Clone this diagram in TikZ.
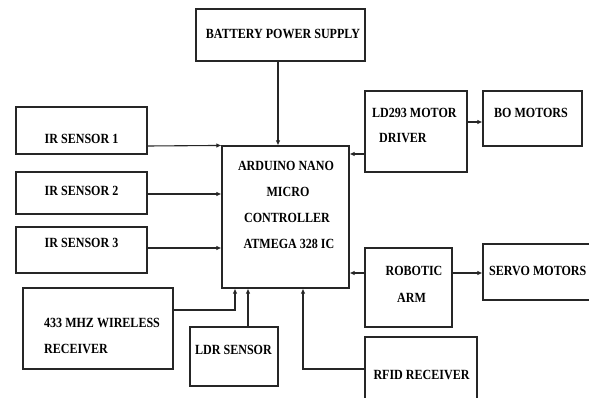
\documentclass[tikz,border=0pt]{standalone}
\usepackage{fontspec}
\setmainfont{Liberation Serif}[FakeStretch=0.86]
\usetikzlibrary{arrows.meta}
\begin{document}
\begin{tikzpicture}[x=1pt,y=-1pt,
  box/.style={draw=black!85,line width=1.1pt,inner sep=0pt},
  lbl/.style={font=\fontsize{14}{16}\selectfont\bfseries,inner sep=0pt,text height=9.4pt,text depth=0pt},
  arr/.style={draw=black!85,line width=1.1pt,-{Latex[length=5pt,width=4.5pt]}}]
\useasboundingbox (0,0) rectangle (589,398);
\clip (0,0) rectangle (589,398);
\fill[white] (0,0) rectangle (589,398);
% boxes
\node[box,minimum width=169pt,minimum height=52pt] (bat) at (280.5,35) {};
\node[box,minimum width=131pt,minimum height=47pt] (ir1) at (81.5,130.5) {};
\node[box,minimum width=131pt,minimum height=42pt] (ir2) at (81.5,193) {};
\node[box,minimum width=131pt,minimum height=46pt] (ir3) at (81.5,250) {};
\node[box,minimum width=150pt,minimum height=81pt] (wl) at (98,328.5) {};
\node[box,minimum width=88pt,minimum height=59pt] (ldr) at (234,356.5) {};
\node[box,minimum width=127pt,minimum height=142pt] (ard) at (285.5,217) {};
\node[box,minimum width=102pt,minimum height=81pt] (ld) at (416,131.5) {};
\node[box,minimum width=99pt,minimum height=55pt] (bo) at (532.5,118.5) {};
\node[box,minimum width=87pt,minimum height=79pt] (arm) at (408.5,287.5) {};
\node[box,minimum width=117pt,minimum height=56pt] (servo) at (541.5,272) {};
\node[box,minimum width=112pt,minimum height=73pt] (rfid) at (421,373.5) {};
% labels
\node[lbl] (tbat) at (283,34) {BATTERY POWER SUPPLY};
\node[lbl] (tir1) at (81.5,139) {IR SENSOR 1};
\node[lbl] (tir2) at (81.5,191) {IR SENSOR 2};
\node[lbl] (tir3) at (81.5,243) {IR SENSOR 3};
\node[lbl,anchor=west] (twl1) at (44,323) {433 MHZ WIRELESS};
\node[lbl,anchor=west] (twl2) at (44,349) {RECEIVER};
\node[lbl] (tldr) at (233.5,350) {LDR SENSOR};
\node[lbl] (tard1) at (286,166) {ARDUINO NANO};
\node[lbl] (tard2) at (288,192) {MICRO};
\node[lbl] (tard3) at (287,218) {CONTROLLER};
\node[lbl] (tard4) at (289,244) {ATMEGA 328 IC};
\node[lbl,anchor=west] (tld1) at (372,113) {LD293 MOTOR};
\node[lbl,anchor=west] (tld2) at (379,138) {DRIVER};
\node[lbl] (tbo) at (531,113) {BO MOTORS};
\node[lbl] (tarm1) at (414,271) {ROBOTIC};
\node[lbl] (tarm2) at (411.5,298) {ARM};
\node[lbl,anchor=west] (tservo) at (489,271) {SERVO MOTORS};
\node[lbl] (trfid) at (421.5,375) {RFID RECEIVER};
% connectors
\draw[arr] (bat.south -| 278,0) -- (ard.north -| 278,0);
\draw[arr] (ir1.east |- 0,146) -- (ard.north west);
\draw[arr] (ir2.east |- 0,194) -- (ard.west |- 0,194);
\draw[arr] (ir3.east |- 0,248) -- (ard.west |- 0,248);
\draw[arr] (wl.east |- 0,310) -| (ard.south -| 235,0);
\draw[arr] (ldr.north -| 248,0) -- (ard.south -| 248,0);
\draw[arr] (ld.west |- 0,154) -- (ard.east |- 0,154);
\draw[arr] (ld.east |- 0,122) -- (bo.west |- 0,122);
\draw[arr] (arm.west |- 0,273) -- (ard.east |- 0,273);
\draw[arr] (arm.east |- 0,273) -- (servo.west |- 0,273);
\draw[arr] (rfid.west |- 0,369) -| (ard.south -| 303,0);
\end{tikzpicture}
\end{document}
